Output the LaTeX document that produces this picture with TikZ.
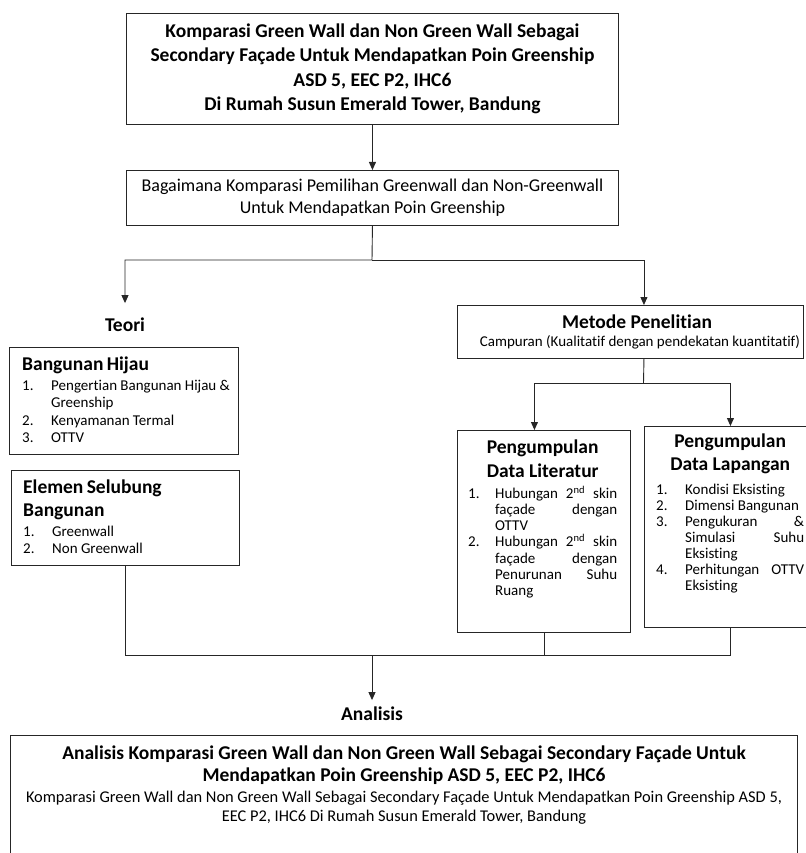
\documentclass[tikz,border=0pt]{standalone}
\usepackage{fontspec}
\setmainfont{Carlito}[Ligatures=NoCommon]
\usepackage{enumitem}
\usetikzlibrary{arrows.meta}

\hyphenpenalty=10000
\exhyphenpenalty=10000

\newcommand{\judulfont}{\fontsize{19.5}{24.5}\selectfont\bfseries}
\newcommand{\tanyafont}{\fontsize{18}{22}\selectfont}
\newcommand{\isifont}{\fontsize{15}{17.3}\selectfont}
\newcommand{\dataisifont}{\fontsize{15}{16.2}\selectfont}
\newcommand{\hasilfont}{\fontsize{16.4}{19.5}\selectfont}

\setlist[enumerate]{label=\arabic*., align=left, labelsep=0pt, labelindent=0pt, nosep, leftmargin=29pt, labelwidth=29pt}

\tikzset{
  box/.style={draw=black!85, line width=0.9pt, inner sep=0pt, anchor=north west},
  teks/.style={inner sep=0pt, anchor=north west},
  garis/.style={draw=black!85, line width=0.9pt},
  panah/.style={garis, -{Triangle[width=7pt,length=8pt]}},
}

\begin{document}
\begin{tikzpicture}[x=1pt,y=-1pt]
\useasboundingbox (0,0) rectangle (805,853);

% judul dan pertanyaan
\node[box, minimum width=492pt, minimum height=111pt, align=center, font=\judulfont] (judul) at (126,13)
  {Komparasi Green Wall dan Non Green Wall Sebagai\\
   Secondary Façade Untuk Mendapatkan Poin Greenship\\
   ASD 5, EEC P2, IHC6\\
   Di Rumah Susun Emerald Tower, Bandung};
\node[box, minimum width=492pt, minimum height=55pt, align=center, font=\tanyafont] (tanya) at (126,170)
  {Bagaimana Komparasi Pemilihan Greenwall dan Non-Greenwall\\ Untuk Mendapatkan Poin Greenship};

% teori
\node[font=\judulfont, inner sep=0pt, outer ysep=15pt] (teori) at (125,325) {Teori};
\node[box, minimum width=229pt, minimum height=107pt] (hijau) at (9,347) {};
\node[teks, text width=210pt, align=left] (hijauTeks) at (22,356.5)
  {{\judulfont Bangunan Hijau\par}\vspace{3pt}\isifont
   \begin{enumerate}
     \item Pengertian Bangunan Hijau \& Greenship
     \item Kenyamanan Termal
     \item OTTV
   \end{enumerate}};
\node[box, minimum width=228pt, minimum height=95pt] (elemen) at (11,470) {};
\node[teks, text width=205pt, align=left] (elemenTeks) at (23,479.5)
  {{\fontsize{19.5}{23}\selectfont\bfseries Elemen Selubung Bangunan\par}\vspace{2.7pt}\isifont
   \begin{enumerate}
     \item Greenwall
     \item Non Greenwall
   \end{enumerate}};

% metode
\node[box, minimum width=346pt, minimum height=53pt] (metode) at (457,305) {};
\node[font=\judulfont, inner sep=0pt] (metodeJudul) at (637,322) {Metode Penelitian};
\node[font=\fontsize{15}{18}\selectfont, inner sep=0pt] (metodeIsi) at (640,342)
  {Campuran (Kualitatif dengan pendekatan kuantitatif)};

\node[box, minimum width=173pt, minimum height=202pt] (lit) at (457,430) {};
\node[teks, text width=149pt, align=justify] (litTeks) at (468,439.5)
  {{\centering\fontsize{19.5}{24}\selectfont\bfseries Pengumpulan\\ Data Literatur\par}\vspace{4.8pt}\dataisifont
   \begin{enumerate}[leftmargin=27pt, labelwidth=27pt]
     \item Hubungan 2\textsuperscript{nd} skin façade dengan OTTV
     \item Hubungan 2\textsuperscript{nd} skin façade dengan Penurunan Suhu Ruang
   \end{enumerate}};
\node[box, minimum width=172pt, minimum height=201pt] (lap) at (644,426) {};
\node[teks, text width=148pt, align=justify] (lapTeks) at (656,433.5)
  {{\centering\fontsize{19.5}{23}\selectfont\bfseries Pengumpulan\\ Data Lapangan\par}\vspace{8pt}\fontsize{15}{16}\selectfont
   \begin{enumerate}
     \item Kondisi Eksisting
     \item Dimensi Bangunan
     \item Pengukuran \& Simulasi Suhu Eksisting
     \item Perhitungan OTTV Eksisting
   \end{enumerate}};

% analisis
\node[font=\judulfont, inner sep=0pt, outer ysep=7pt] (analisis) at (372,714) {Analisis};
\node[box, minimum width=787pt, minimum height=150pt] (hasil) at (10,735) {};
\node[font=\fontsize{19.5}{22}\selectfont\bfseries, align=center, inner sep=0pt] (hasilJudul) at (404,765)
  {Analisis Komparasi Green Wall dan Non Green Wall Sebagai Secondary Façade Untuk\\
   Mendapatkan Poin Greenship ASD 5, EEC P2, IHC6};
\node[font=\hasilfont, align=center, inner sep=0pt] (hasilIsi) at (404,807.5)
  {Komparasi Green Wall dan Non Green Wall Sebagai Secondary Façade Untuk Mendapatkan Poin Greenship ASD 5,\\
   EEC P2, IHC6 Di Rumah Susun Emerald Tower, Bandung};

% garis
\coordinate (cabang) at (372,260);
\coordinate (cabang2) at (643.5,383);
\coordinate (gabung) at (372,655);

\draw[panah] (judul.south) -- (tanya.north);
\draw[panah] (tanya.south) -- (cabang) -| (teori.north);
\draw[panah] (cabang) -| ([xshift=13.5pt]metode.north);
\draw[garis] ([xshift=13.5pt]metode.south) -- (cabang2);
\draw[panah] (cabang2) -| ([xshift=-9.5pt]lit.north);
\draw[panah] (cabang2) -| (lap.north);

\draw[garis] (elemen.south) |- (gabung);
\draw[garis] (lap.south) |- (gabung);
\draw[garis] (lit.south) -- (lit.south |- gabung);
\draw[panah] (gabung) -- (analisis.north);
\end{tikzpicture}
\end{document}
